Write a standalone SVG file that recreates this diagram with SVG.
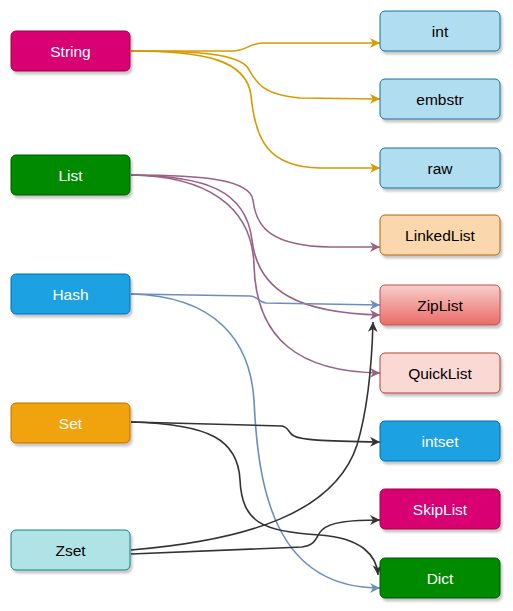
<svg xmlns="http://www.w3.org/2000/svg" width="513" height="611" viewBox="0 0 513 611">
<defs>
<linearGradient id="zipGrad" x1="0" y1="0" x2="0" y2="1">
<stop offset="0" stop-color="#f8cecc"/>
<stop offset="1" stop-color="#ea6b66"/>
</linearGradient>
<filter id="sh" x="-10%" y="-10%" width="130%" height="140%">
<feDropShadow dx="2" dy="3" stdDeviation="1.2" flood-color="#000" flood-opacity="0.22"/>
</filter>
<marker id="aO" viewBox="0 0 10 10" refX="10" refY="5" markerWidth="10" markerHeight="10" markerUnits="userSpaceOnUse" orient="auto"><path d="M0,0 L10,5 L0,10 L3,5 z" fill="#d79b00"/></marker>
<marker id="aP" viewBox="0 0 10 10" refX="10" refY="5" markerWidth="10" markerHeight="10" markerUnits="userSpaceOnUse" orient="auto"><path d="M0,0 L10,5 L0,10 L3,5 z" fill="#996185"/></marker>
<marker id="aB" viewBox="0 0 10 10" refX="10" refY="5" markerWidth="10" markerHeight="10" markerUnits="userSpaceOnUse" orient="auto"><path d="M0,0 L10,5 L0,10 L3,5 z" fill="#6c8ebf"/></marker>
<marker id="aK" viewBox="0 0 10 10" refX="10" refY="5" markerWidth="10" markerHeight="10" markerUnits="userSpaceOnUse" orient="auto"><path d="M0,0 L10,5 L0,10 L3,5 z" fill="#333333"/></marker>
</defs>
<style>
.box{stroke-width:1;filter:url(#sh)}
.t{font-family:"Liberation Sans",Arial,sans-serif;font-size:15.5px;text-anchor:middle;dominant-baseline:central}
.w{fill:#ffffff}
.k{fill:#000000}
.e{fill:none;stroke-width:1.6}
.o{stroke:#d79b00;marker-end:url(#aO)}
.p{stroke:#996185;marker-end:url(#aP)}
.b{stroke:#6c8ebf;marker-end:url(#aB)}
.d{stroke:#333333;marker-end:url(#aK)}
</style>

<g id="connectors">
<path class="e o" d="M131,51 L232,51 C246,51 248,44 262,43 L380,43"/>
<path class="e o" d="M131,51 C200,51 238,54 248,68 C256,82 262,95 300,98 L380,99"/>
<path class="e o" d="M131,51 C205,51 246,60 251,95 C255,140 268,167 320,168 L380,168"/>
<path class="e p" d="M131,175 C205,175 250,180 253,200 C256,228 272,246 330,247 L380,247"/>
<path class="e p" d="M131,175 C205,176 246,190 252,240 C258,292 300,313 380,315"/>
<path class="e p" d="M131,175 C205,176 252,205 254,265 C256,340 300,372 380,373"/>
<path class="e b" d="M131,294 L250,296 C258,296 258,302 266,303 L380,305"/>
<path class="e b" d="M131,294 C215,296 250,340 254,400 C258,490 275,588 380,588"/>
<path class="e d" d="M131,422 L282,426 C289,427 288,433 294,436 C302,440 320,441 380,442"/>
<path class="e d" d="M131,422 C210,424 238,440 240,480 C242,522 262,532 320,535 C362,538 377,556 378,575"/>
<path class="e d" d="M131,550 C250,540 335,512 357,445 C369,405 372,360 373,322"/>
<path class="e d" d="M131,554 L302,547 C318,545 316,535 322,530 C330,522 350,520 380,520"/>
</g>

<g id="String"><rect class="box" x="11" y="31" width="119" height="40" rx="5" fill="#d80073" stroke="#a50040"/><text class="t w" x="70.5" y="51">String</text></g>
<g id="List"><rect class="box" x="11" y="155" width="119" height="40" rx="5" fill="#008a00" stroke="#005700"/><text class="t w" x="70.5" y="175">List</text></g>
<g id="Hash"><rect class="box" x="11" y="274" width="119" height="40" rx="5" fill="#1ba1e2" stroke="#006eaf"/><text class="t w" x="70.5" y="294">Hash</text></g>
<g id="Set"><rect class="box" x="11" y="403" width="119" height="40" rx="5" fill="#f0a30a" stroke="#bd7000"/><text class="t w" x="70.5" y="423">Set</text></g>
<g id="Zset"><rect class="box" x="11" y="530" width="119" height="40" rx="5" fill="#b0e3e6" stroke="#0e8088"/><text class="t k" x="70.5" y="550">Zset</text></g>

<g id="int"><rect class="box" x="380" y="11" width="120" height="40" rx="5" fill="#b1ddf0" stroke="#10739e"/><text class="t k" x="440" y="31">int</text></g>
<g id="embstr"><rect class="box" x="380" y="79" width="120" height="40" rx="5" fill="#b1ddf0" stroke="#10739e"/><text class="t k" x="440" y="99">embstr</text></g>
<g id="raw"><rect class="box" x="380" y="148" width="120" height="40" rx="5" fill="#b1ddf0" stroke="#10739e"/><text class="t k" x="440" y="168">raw</text></g>
<g id="LinkedList"><rect class="box" x="380" y="215" width="120" height="40" rx="5" fill="#fad7ac" stroke="#b46504"/><text class="t k" x="440" y="235">LinkedList</text></g>
<g id="ZipList"><rect class="box" x="380" y="285" width="120" height="40" rx="5" fill="url(#zipGrad)" stroke="#b85450"/><text class="t k" x="440" y="305">ZipList</text></g>
<g id="QuickList"><rect class="box" x="380" y="353" width="120" height="40" rx="5" fill="#fad9d5" stroke="#ae4132"/><text class="t k" x="440" y="373">QuickList</text></g>
<g id="intset"><rect class="box" x="380" y="421" width="120" height="40" rx="5" fill="#1ba1e2" stroke="#006eaf"/><text class="t w" x="440" y="441">intset</text></g>
<g id="SkipList"><rect class="box" x="380" y="489" width="120" height="40" rx="5" fill="#d80073" stroke="#a50040"/><text class="t w" x="440" y="509">SkipList</text></g>
<g id="Dict"><rect class="box" x="380" y="558" width="120" height="40" rx="5" fill="#008a00" stroke="#005700"/><text class="t w" x="440" y="578">Dict</text></g>
</svg>
